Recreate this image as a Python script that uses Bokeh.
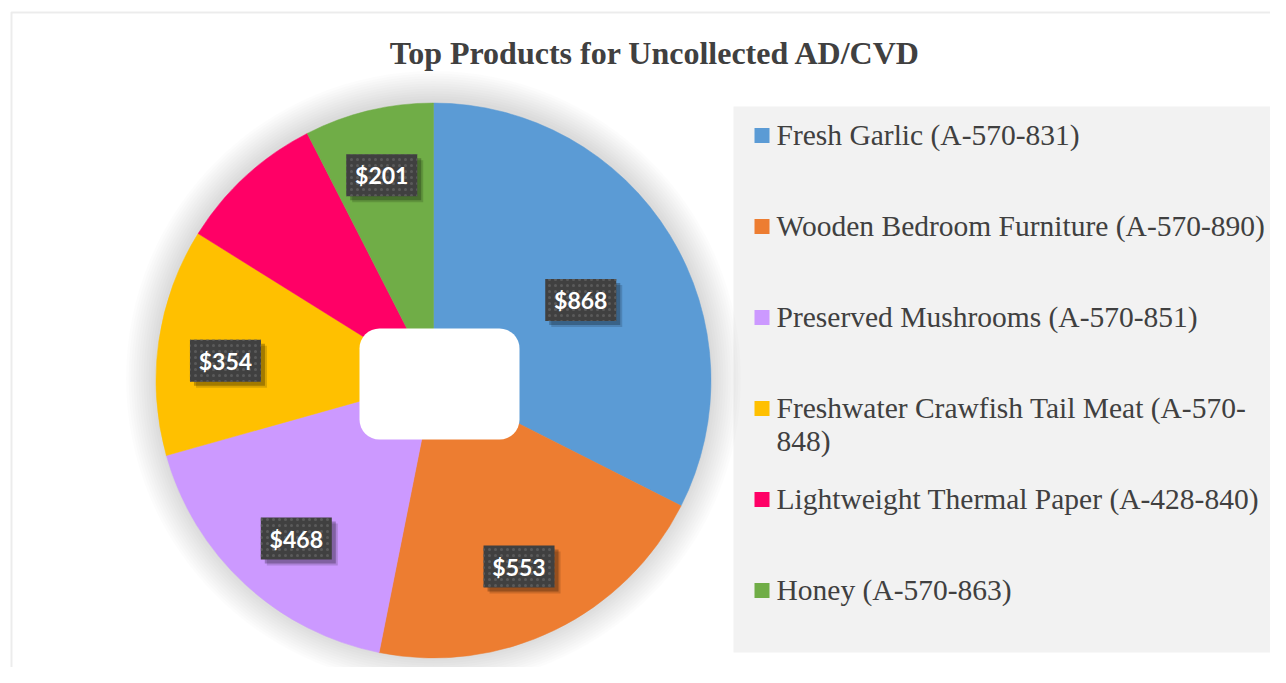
import math
from bokeh.plotting import figure
from bokeh.models import Range1d, BoxAnnotation, ColumnDataSource
from bokeh.core.properties import value
from bokeh.embed import file_html
from bokeh.resources import INLINE

# ---------------- data ----------------
title_text = "Top Products for Uncollected AD/CVD"
products = [
    "Fresh Garlic (A-570-831)",
    "Wooden Bedroom Furniture (A-570-890)",
    "Preserved Mushrooms (A-570-851)",
    "Freshwater Crawfish Tail Meat (A-570-\n848)",
    "Lightweight Thermal Paper (A-428-840)",
    "Honey (A-570-863)",
]
values = [868, 553, 468, 354, 230, 201]
label_shown = [True, True, True, True, False, True]
colors = ["#5B9BD5", "#ED7D31", "#CC99FF", "#FFC000", "#FF0066", "#70AD47"]

# ---------------- layout ----------------
W, H = 1270, 667
cx, cy, R = 425, 295, 277.5

p = figure(width=W, height=H, x_range=Range1d(-8, W - 8), y_range=Range1d(8, H + 8),
           output_backend="svg", toolbar_location=None, min_border=0,
           x_axis_location=None, y_axis_location=None)
p.grid.visible = False
p.outline_line_color = None
p.background_fill_color = "white"
p.border_fill_color = "white"

# outer chart border (cropped on right/bottom)
p.add_layout(BoxAnnotation(left=3, right=W + 40, bottom=-40, top=663,
                           fill_alpha=0, line_color="#bfbfbf", line_width=2,
                           level="underlay"))

# title
p.text(x=[647], y=[623], text=[title_text], text_font=value("Liberation Serif"),
       text_font_style="bold", text_font_size="32px", text_color="#404040",
       text_align="center", text_baseline="middle")

# soft glow/shadow around pie
for k in range(1, 13):
    p.circle(x=[cx], y=[cy + 2], radius=R + 2.5 * k, fill_color="black",
             fill_alpha=0.011, line_color=None)

# pie wedges, clockwise from 12 o'clock
total = float(sum(values))
starts, ends, mids, fracs = [], [], [], []
cum = 0.0
for v in values:
    a0 = math.pi / 2 - 2 * math.pi * cum / total
    cum += v
    a1 = math.pi / 2 - 2 * math.pi * cum / total
    starts.append(a0)
    ends.append(a1)
    mids.append((a0 + a1) / 2)
    fracs.append(v / total)

src = ColumnDataSource(dict(start=starts, end=ends, color=colors))
p.wedge(x=cx, y=cy, radius=R, start_angle="start", end_angle="end",
        direction="clock", fill_color="color", line_color="color", line_width=0.5,
        source=src)

# white rounded rectangle at centre
p.add_layout(BoxAnnotation(left=cx - 74, right=cx + 86, top=cy + 52, bottom=cy - 59,
                           fill_color="white", fill_alpha=1, line_color=None,
                           border_radius=20))

# data labels (best-fit-like: smaller slices pushed further out)
lx, ly, lt = [], [], []
for v, m, f, show in zip(values, mids, fracs, label_shown):
    if not show:
        continue
    rr = (0.85 - 0.7 * f) * R
    lx.append(cx + rr * math.cos(m))
    ly.append(cy + rr * math.sin(m) - 10)
    lt.append("$%d" % v)

for d, a in [(6, 0.15), (4, 0.25)]:
    p.rect(x=[x + d for x in lx], y=[y - d for y in ly], width=71, height=42,
           width_units="screen", height_units="screen", fill_color="black",
           fill_alpha=a, line_color=None)
p.rect(x=lx, y=ly, width=71, height=42, width_units="screen", height_units="screen",
       fill_color="#404040", line_color=None, hatch_pattern="dot",
       hatch_color="#5a5a5a", hatch_scale=6, hatch_weight=2)
p.text(x=lx, y=ly, text=lt, text_font=value("Lato"), text_font_style="bold",
       text_font_size="23px", text_color="white", text_align="center",
       text_baseline="middle")

# legend
p.add_layout(BoxAnnotation(left=725, right=W + 40, bottom=23, top=569,
                           fill_color="#f2f2f2", fill_alpha=1, line_color=None,
                           level="underlay"))
first_base = 675 - 145
step = 91
sq_x, sq_y = [], []
tx, ty, tt = [], [], []
for i, name in enumerate(products):
    base = first_base - i * step
    sq_x.append(753.5)
    sq_y.append(base + 10)
    for j, line in enumerate(name.split("\n")):
        tx.append(768)
        ty.append(base + 11 - 33 * j)
        tt.append(line)
p.rect(x=sq_x, y=sq_y, width=15, height=15, width_units="screen",
       height_units="screen", fill_color=colors, line_color=None)
p.text(x=tx, y=ty, text=tt, text_font=value("Liberation Serif"),
       text_font_size="29.5px", text_color="#404040", text_align="left",
       text_baseline="alphabetic")

open("out.html", "w").write(file_html(p, INLINE))
